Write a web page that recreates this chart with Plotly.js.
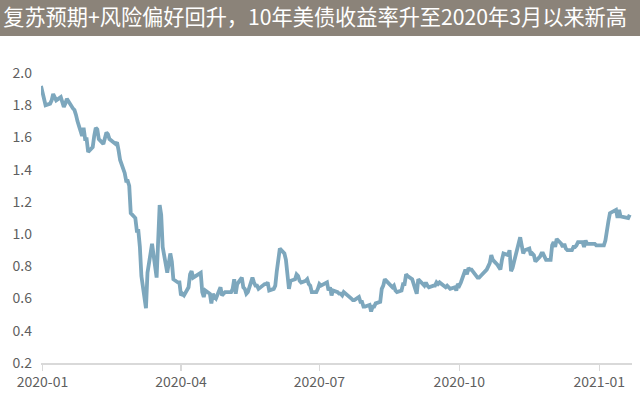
<!DOCTYPE html>
<html>
<head>
<meta charset="utf-8">
<script src="https://cdn.plot.ly/plotly-3.0.1.min.js"></script>
<style>
html,body{margin:0;padding:0;background:#fff;}
#chart{width:640px;height:394px;}
</style>
</head>
<body>
<div id="chart"></div>
<script>
const chartTitle = "复苏预期+风险偏好回升，10年美债收益率升至2020年3月以来新高";
const yTickVals = [0.2,0.4,0.6,0.8,1.0,1.2,1.4,1.6,1.8,2.0];
const xTickVals = ["2020-01-01","2020-04-01","2020-07-01","2020-10-01","2021-01-01"];
const xTickText = ["2020-01","2020-04","2020-07","2020-10","2021-01"];

const dates = [
"2019-12-31","2020-01-03","2020-01-06","2020-01-07","2020-01-08","2020-01-09","2020-01-10","2020-01-13","2020-01-14","2020-01-15","2020-01-16","2020-01-17",
"2020-01-21","2020-01-22","2020-01-23","2020-01-24","2020-01-27","2020-01-28","2020-01-29","2020-01-30","2020-01-31",
"2020-02-03","2020-02-04","2020-02-05","2020-02-06","2020-02-07","2020-02-10","2020-02-11","2020-02-12","2020-02-13","2020-02-14",
"2020-02-18","2020-02-19","2020-02-20","2020-02-21","2020-02-24","2020-02-25","2020-02-26","2020-02-27","2020-02-28",
"2020-03-02","2020-03-03","2020-03-04","2020-03-05","2020-03-06","2020-03-09","2020-03-10","2020-03-11","2020-03-12","2020-03-13",
"2020-03-16","2020-03-17","2020-03-18","2020-03-19","2020-03-20","2020-03-23","2020-03-24","2020-03-25","2020-03-26","2020-03-27",
"2020-03-30","2020-03-31","2020-04-01","2020-04-02","2020-04-03","2020-04-06","2020-04-07","2020-04-08","2020-04-09",
"2020-04-13","2020-04-14","2020-04-15","2020-04-16","2020-04-17","2020-04-20","2020-04-21","2020-04-22","2020-04-23","2020-04-24",
"2020-04-27","2020-04-28","2020-04-29","2020-04-30","2020-05-01","2020-05-04","2020-05-05","2020-05-06","2020-05-07","2020-05-08",
"2020-05-11","2020-05-12","2020-05-13","2020-05-14","2020-05-15","2020-05-18","2020-05-19","2020-05-20","2020-05-21","2020-05-22",
"2020-05-26","2020-05-27","2020-05-28","2020-05-29","2020-06-01","2020-06-02","2020-06-03","2020-06-04","2020-06-05",
"2020-06-08","2020-06-09","2020-06-10","2020-06-11","2020-06-12","2020-06-15","2020-06-16","2020-06-17","2020-06-18","2020-06-19",
"2020-06-22","2020-06-23","2020-06-24","2020-06-25","2020-06-26","2020-06-29","2020-06-30","2020-07-01","2020-07-02",
"2020-07-06","2020-07-07","2020-07-08","2020-07-09","2020-07-10","2020-07-13","2020-07-14","2020-07-15","2020-07-16","2020-07-17",
"2020-07-20","2020-07-21","2020-07-22","2020-07-23","2020-07-24","2020-07-27","2020-07-28","2020-07-29","2020-07-30","2020-07-31",
"2020-08-03","2020-08-04","2020-08-05","2020-08-06","2020-08-07","2020-08-10","2020-08-11","2020-08-12","2020-08-13","2020-08-14",
"2020-08-17","2020-08-18","2020-08-19","2020-08-20","2020-08-21","2020-08-24","2020-08-25","2020-08-26","2020-08-27","2020-08-28",
"2020-08-31","2020-09-01","2020-09-02","2020-09-03","2020-09-04","2020-09-08","2020-09-09","2020-09-10","2020-09-11",
"2020-09-14","2020-09-15","2020-09-16","2020-09-17","2020-09-18","2020-09-21","2020-09-22","2020-09-23","2020-09-24","2020-09-25",
"2020-09-28","2020-09-29","2020-09-30","2020-10-01","2020-10-02","2020-10-05","2020-10-06","2020-10-07","2020-10-08","2020-10-09",
"2020-10-13","2020-10-14","2020-10-15","2020-10-16","2020-10-19","2020-10-20","2020-10-21","2020-10-22","2020-10-23",
"2020-10-26","2020-10-27","2020-10-28","2020-10-29","2020-10-30","2020-11-02","2020-11-03","2020-11-04","2020-11-05","2020-11-06",
"2020-11-09","2020-11-10","2020-11-12","2020-11-13","2020-11-16","2020-11-17","2020-11-18","2020-11-19","2020-11-20",
"2020-11-23","2020-11-24","2020-11-25","2020-11-27","2020-11-30","2020-12-01","2020-12-02","2020-12-03","2020-12-04",
"2020-12-07","2020-12-08","2020-12-09","2020-12-10","2020-12-11","2020-12-14","2020-12-15","2020-12-16","2020-12-17","2020-12-18",
"2020-12-21","2020-12-22","2020-12-23","2020-12-24","2020-12-28","2020-12-29","2020-12-30","2020-12-31",
"2021-01-04","2021-01-05","2021-01-06","2021-01-07","2021-01-08","2021-01-11","2021-01-12","2021-01-13","2021-01-14","2021-01-15",
"2021-01-19","2021-01-20","2021-01-21"
];

const yields = [
1.92,1.80,1.81,1.83,1.87,1.85,1.83,1.85,1.82,1.79,1.81,1.84,
1.78,1.77,1.74,1.70,1.61,1.66,1.59,1.59,1.51,
1.54,1.61,1.66,1.65,1.59,1.56,1.59,1.63,1.62,1.59,
1.56,1.57,1.52,1.46,1.38,1.33,1.33,1.30,1.13,
1.10,1.02,1.02,0.92,0.74,0.54,0.76,0.82,0.88,0.94,
0.73,1.02,1.18,1.12,0.92,0.76,0.84,0.88,0.83,0.72,
0.70,0.70,0.62,0.63,0.62,0.67,0.75,0.77,0.73,
0.76,0.76,0.64,0.61,0.65,0.63,0.57,0.63,0.61,0.60,
0.67,0.62,0.63,0.64,0.64,0.64,0.66,0.72,0.63,0.69,
0.73,0.67,0.66,0.63,0.64,0.73,0.70,0.68,0.68,0.66,
0.69,0.69,0.70,0.65,0.66,0.68,0.77,0.83,0.91,
0.88,0.84,0.75,0.66,0.71,0.72,0.75,0.74,0.71,0.70,
0.71,0.72,0.69,0.68,0.64,0.64,0.66,0.69,0.68,
0.70,0.65,0.67,0.62,0.65,0.64,0.63,0.63,0.62,0.64,
0.62,0.61,0.60,0.59,0.59,0.61,0.58,0.58,0.55,0.55,
0.56,0.52,0.55,0.55,0.57,0.58,0.66,0.68,0.72,0.71,
0.68,0.67,0.68,0.65,0.64,0.65,0.69,0.69,0.75,0.74,
0.72,0.68,0.66,0.63,0.72,0.68,0.70,0.68,0.67,
0.68,0.68,0.70,0.69,0.70,0.68,0.67,0.68,0.67,0.66,
0.67,0.65,0.69,0.68,0.70,0.78,0.75,0.79,0.78,0.78,
0.73,0.73,0.74,0.75,0.78,0.80,0.82,0.87,0.84,
0.81,0.79,0.78,0.84,0.88,0.87,0.90,0.77,0.79,0.83,
0.93,0.98,0.88,0.90,0.91,0.87,0.88,0.87,0.83,
0.86,0.88,0.88,0.84,0.84,0.93,0.95,0.92,0.97,
0.94,0.92,0.94,0.91,0.90,0.90,0.92,0.92,0.93,0.95,
0.95,0.92,0.96,0.94,0.94,0.94,0.93,0.93,
0.93,0.96,1.04,1.08,1.13,1.15,1.15,1.10,1.15,1.11,
1.10,1.10,1.12
];

const lineColor = "rgb(125,167,189)";
const tickFont = {family: "Noto Sans CJK SC, Noto Sans, sans-serif", size: 14, color: "#5f5f5f"};

const trace = {
  x: dates, y: yields, type: "scatter", mode: "lines",
  line: {color: lineColor, width: 3.8},
  hoverinfo: "skip"
};

const plotL = 41, plotR = 8, plotT = 73, plotB = 31;
const plotW = 640 - plotL - plotR, plotH = 394 - plotT - plotB;

const layout = {
  width: 640, height: 394,
  margin: {l: plotL, r: plotR, t: plotT, b: plotB, pad: 0},
  paper_bgcolor: "#ffffff", plot_bgcolor: "#ffffff",
  showlegend: false,
  title: {
    text: chartTitle,
    font: {family: "Noto Sans CJK SC, sans-serif", size: 21.2, color: "#ffffff"},
    xref: "container", x: 0.005, xanchor: "left",
    yref: "container", y: 1 - 18/394, yanchor: "middle"
  },
  shapes: [{
    type: "rect", xref: "paper", yref: "paper",
    x0: -plotL/plotW - 0.01, x1: 1 + plotR/plotW + 0.01,
    y0: 1 + (plotT - 36)/plotH, y1: 1 + plotT/plotH + 0.01,
    fillcolor: "rgb(139,131,121)", line: {width: 0}, layer: "below"
  }],
  xaxis: {
    type: "date",
    range: ["2019-12-31", "2021-01-22 12:00"],
    tickvals: xTickVals, ticktext: xTickText,
    showgrid: false, zeroline: false,
    showline: true, linecolor: "#d9d9d9", linewidth: 1.5,
    ticks: "outside", ticklen: 6, tickcolor: "#d9d9d9", tickwidth: 1.5,
    tickfont: tickFont
  },
  yaxis: {
    range: [0.2, 2.0],
    tickvals: yTickVals,
    tickformat: ".1f",
    showgrid: false, zeroline: false, showline: false,
    ticks: "", ticklabelstandoff: 8,
    tickfont: tickFont
  }
};

Plotly.newPlot("chart", [trace], layout, {displayModeBar: false, staticPlot: true});
</script>
</body>
</html>
